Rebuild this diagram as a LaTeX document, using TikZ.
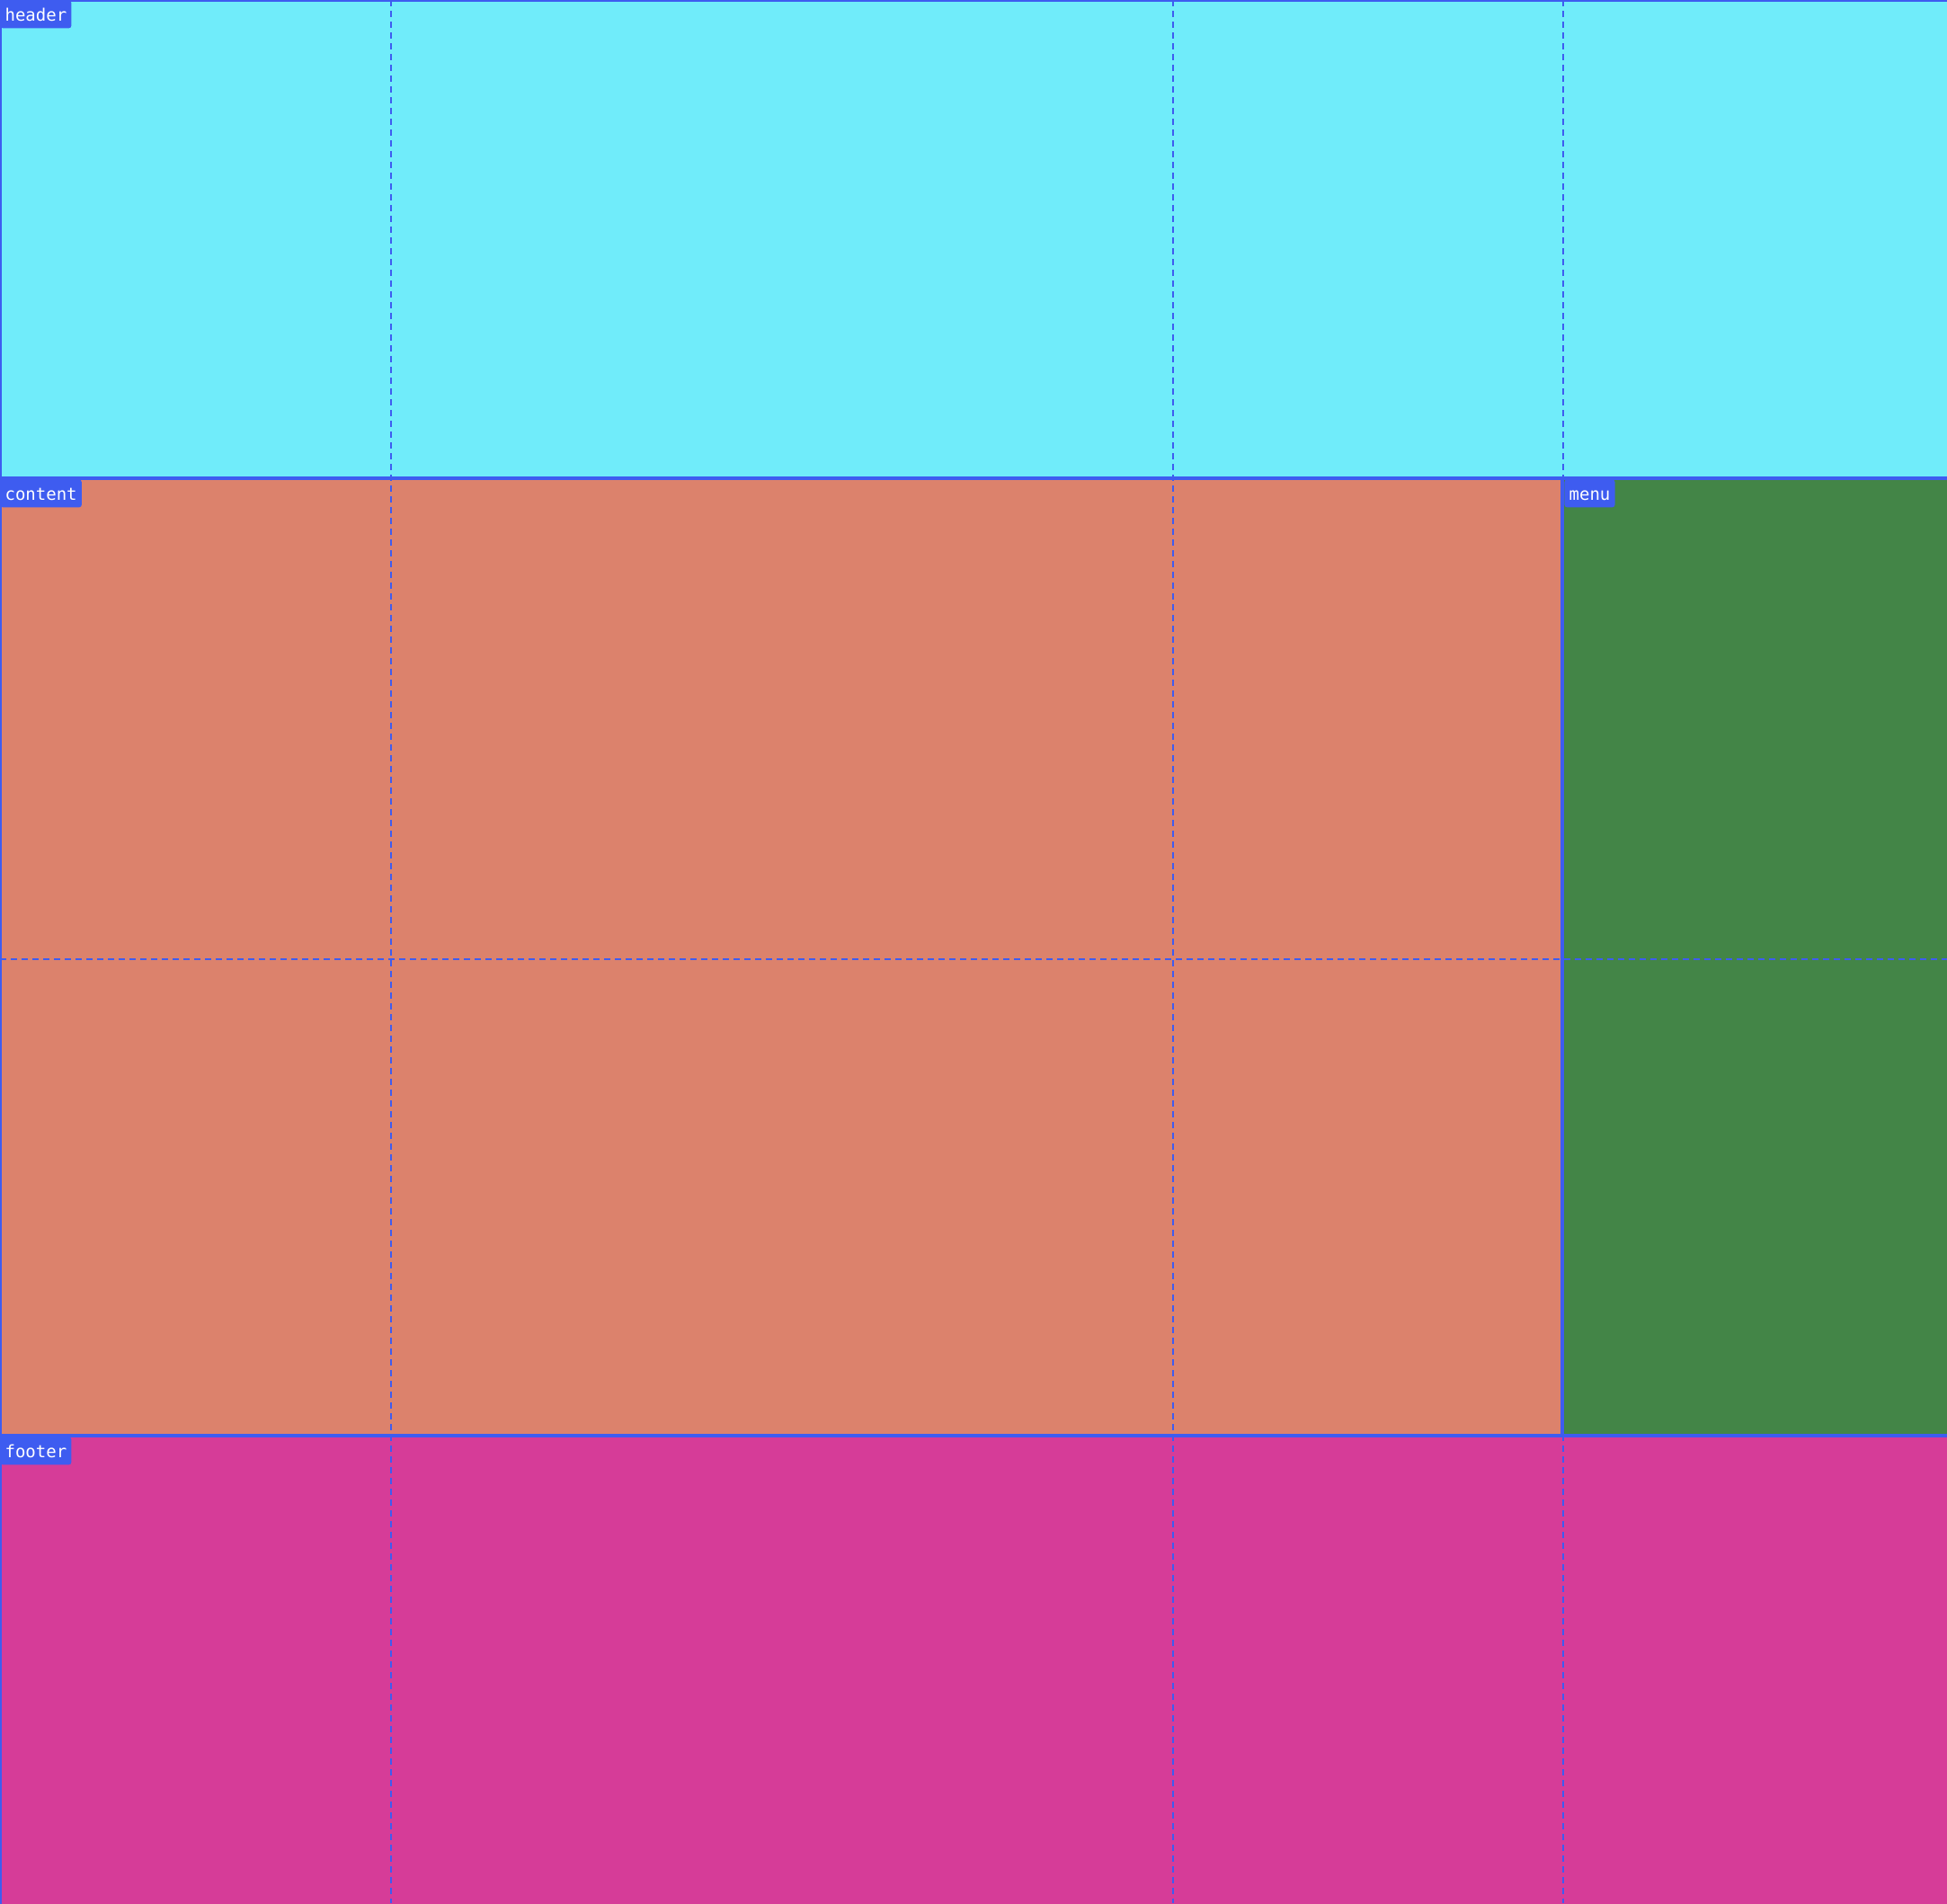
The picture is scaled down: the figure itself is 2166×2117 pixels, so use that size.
\documentclass[tikz,border=0pt]{standalone}
\usepackage{fontspec}
\setmonofont{DejaVu Sans Mono}
\usepackage{xcolor}
\definecolor{gridline}{RGB}{62,92,240}
\definecolor{headerfill}{RGB}{112,236,250}
\definecolor{contentfill}{RGB}{220,130,108}
\definecolor{menufill}{RGB}{67,133,71}
\definecolor{footerfill}{RGB}{214,60,152}

\begin{document}
\begin{tikzpicture}[
  x=0.5pt, y=-0.5pt,
  area/.style={draw=gridline, line width=1pt},
  track/.style={draw=gridline, line width=0.75pt, dash pattern=on 3.5pt off 2.5pt},
  tag/.style={anchor=north west, fill=gridline, text=white, rounded corners=1.5pt,
    font=\ttfamily\fontsize{9.5}{11}\selectfont, inner xsep=2.6pt, inner ysep=2pt,
    text height=9.3pt, text depth=2.2pt}
]
  \useasboundingbox (0,0) rectangle (2166,2117);
  \clip (0,0) rectangle (2166,2117);

  % grid areas
  \draw[area, fill=headerfill] (1,1) rectangle (2180,531);
  \draw[area, fill=contentfill] (1,533) rectangle (1737,1596);
  \draw[area, fill=menufill] (1739,533) rectangle (2180,1596);
  \draw[area, fill=footerfill] (1,1598) rectangle (2180,2130);

  % grid tracks
  \foreach \xx in {435,1305,1739}
    \draw[track] (\xx,0) -- (\xx,2117);
  \draw[track] (0,1067) -- (2166,1067);

  % area names
  \node[tag] (header) at (0,0) {header};
  \node[tag] (content) at (0,533) {content};
  \node[tag] (menu) at (1740,533) {menu};
  \node[tag] (footer) at (0,1598) {footer};
\end{tikzpicture}
\end{document}
